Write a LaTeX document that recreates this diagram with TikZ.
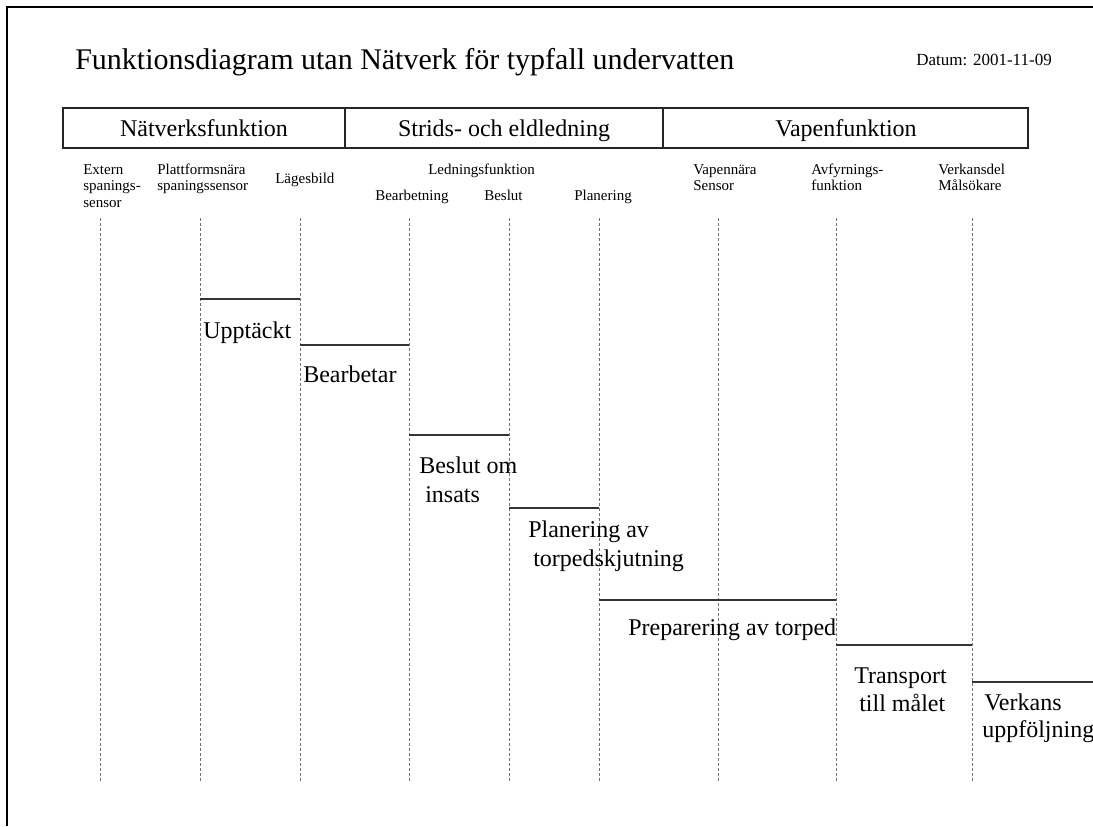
\documentclass[tikz,border=0pt]{standalone}
\usepackage{fontspec}
\setmainfont{Liberation Serif}
\begin{document}
\begin{tikzpicture}[x=0.75pt,y=-0.75pt,
  lane/.style={draw=black!55, line width=0.6pt, dash pattern=on 2.25pt off 1.5pt},
  stepline/.style={draw=black!80, line width=1.1pt},
  frame/.style={draw=black, line width=2.2pt, line join=miter},
  hdrbox/.style={draw=black!85, line width=1pt},
  lbl/.style={inner sep=0pt, anchor=base west, font=\fontsize{11.25}{13}\selectfont},
  steptext/.style={inner sep=0pt, anchor=base west, font=\fontsize{18}{21}\selectfont},
  hdrtext/.style={inner sep=0pt, anchor=base, font=\fontsize{18}{21}\selectfont}]
\useasboundingbox (0,0) rectangle (1093,826);

% page frame (top and left edges)
\coordinate (fTL) at (7,7);
\coordinate (fTR) at (1093,7);
\coordinate (fBL) at (7,826);
\draw[frame] (fBL) -- (fTL) -- (fTR);

% title and date
\node[inner sep=0pt, anchor=base west, font=\fontsize{22.5}{26}\selectfont] (title) at (75,69)
  {Funktionsdiagram utan Nätverk för typfall undervatten};
\node[inner sep=0pt, anchor=base east, font=\fontsize{12.75}{15}\selectfont] (datum) at (1052,65)
  {Datum: 2001-11-09};

% header band with three sections
\coordinate (hA) at (63,108);
\coordinate (hB) at (1028,148);
\coordinate (d1t) at (345,108); \coordinate (d1b) at (345,148);
\coordinate (d2t) at (663,108); \coordinate (d2b) at (663,148);
\draw[hdrbox] (hA) rectangle (hB);
\draw[hdrbox] (d1t) -- (d1b);
\draw[hdrbox] (d2t) -- (d2b);
\node[hdrtext] (natverk) at (204,136) {Nätverksfunktion};
\node[hdrtext] (strids) at (504,136) {Strids- och eldledning};
\node[hdrtext] (vapen) at (846,136) {Vapenfunktion};

% column labels
\node[lbl] (extA) at (83,174) {Extern};
\node[lbl] (extB) at (83,190.5) {spanings-};
\node[lbl] (extC) at (83,207) {sensor};
\node[lbl] (platA) at (157,174) {Plattformsnära};
\node[lbl] (platB) at (157,190.5) {spaningssensor};
\node[lbl] (lages) at (275,183) {Lägesbild};
\node[lbl] (ledn) at (428,174) {Ledningsfunktion};
\node[lbl] (bearb) at (375,200.5) {Bearbetning};
\node[lbl] (beslut) at (484,200.5) {Beslut};
\node[lbl] (planer) at (574,200.5) {Planering};
\node[lbl] (vapnA) at (693,174) {Vapennära};
\node[lbl] (vapnB) at (693,190.5) {Sensor};
\node[lbl] (avfA) at (811,174) {Avfyrnings-};
\node[lbl] (avfB) at (811,190.5) {funktion};
\node[lbl] (verkA) at (938,174) {Verkansdel};
\node[lbl] (verkB) at (938,190.5) {Målsökare};

% dashed lanes
\foreach \n/\x in {1/100,2/200,3/300,4/409,5/509,6/599,7/718,8/836,9/972}{
  \coordinate (l\n t) at (\x,218);
  \coordinate (l\n b) at (\x,783);
  \draw[lane] (l\n t) -- (l\n b);
}

% process steps
\coordinate (s1a) at (200,299); \coordinate (s1b) at (300,299);
\coordinate (s2a) at (300,345); \coordinate (s2b) at (409,345);
\coordinate (s3a) at (409,435); \coordinate (s3b) at (509,435);
\coordinate (s4a) at (509,508); \coordinate (s4b) at (599,508);
\coordinate (s5a) at (599,600); \coordinate (s5b) at (836,600);
\coordinate (s6a) at (836,645); \coordinate (s6b) at (972,645);
\coordinate (s7a) at (972,682); \coordinate (s7b) at (1093,682);
\foreach \k in {1,...,7}{ \draw[stepline] (s\k a) -- (s\k b); }

\node[steptext] (upptackt) at (203,338) {Upptäckt};
\node[steptext] (bearbetar) at (303,382) {Bearbetar};
\node[steptext] (beslutA) at (419,473) {Beslut om};
\node[steptext] (beslutB) at (425,502) {insats};
\node[steptext] (planA) at (528,537) {Planering av};
\node[steptext] (planB) at (533,566) {torpedskjutning};
\node[steptext] (prep) at (628,635) {Preparering av torped};
\node[steptext] (transA) at (854,683) {Transport};
\node[steptext] (transB) at (859,711) {till målet};
\node[steptext] (verkanA) at (984,710) {Verkans};
\node[steptext] (verkanB) at (982,737) {uppföljning};
\end{tikzpicture}
\end{document}
